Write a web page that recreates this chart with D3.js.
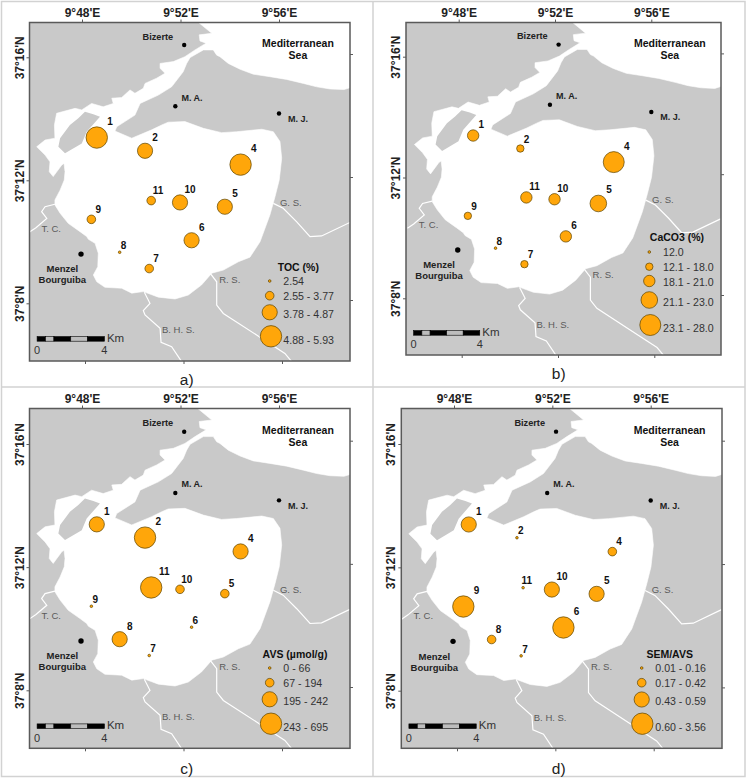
<!doctype html>
<html>
<head>
    <meta charset='utf-8' />
    <script src="https://cdn.jsdelivr.net/npm/d3@7"></script>
    <style>
        body { margin: 0; background: #fff; }
        text { font-family: "Liberation Sans", Arial, sans-serif; }
    </style>
</head>
<body>
<div id="chart"></div>
<script>
// all geographic values are minutes: lon = 9 deg + m, lat = 37 deg + m
var waterLon = [52.66,53.27,52.76,52.79,53.04,52.59,52.18,51.71,51.17,51.17,51.37,51.03,50.56,50.49,50.15,49.95,49.61,49.21,49.27,48.86,48.39,47.99,47.72,46.97,46.88,46.90,46.50,46.16,46.50,46.70,46.67,46.83,47.18,47.27,47.31,47.28,47.11,46.90,46.90,47.11,47.44,47.92,48.19,48.26,48.53,48.66,48.64,48.46,48.60,48.93,49.61,50.02,50.49,51.10,51.78,52.32,52.86,53.27,53.74,54.35,54.82,55.23,55.63,55.84,56.01,56.11,56.04,55.77,55.30,54.28,53.67,52.93,52.18,51.50,51.24,50.83,50.02,49.34,49.41,50.15,50.36,51.10,51.64,52.11,52.25,52.39,52.93,53.33,53.47,53.60,53.94,54.42,54.96,55.63,56.31,56.99,57.53,58.07,58.64,58.88,59.37,59.37,52.66];
var waterLat = [17.18,16.78,16.73,16.53,16.46,16.24,16.02,15.86,15.80,15.64,15.48,15.32,15.15,14.99,14.83,14.94,14.69,14.67,14.50,14.39,14.50,14.29,14.34,14.18,13.80,13.37,13.31,13.09,12.82,12.60,12.28,12.12,12.50,12.55,12.28,12.01,11.68,11.36,11.20,10.93,10.60,10.33,10.17,10.08,9.95,9.63,9.19,8.92,8.70,8.52,8.49,8.33,8.38,8.20,8.14,8.27,8.60,8.98,9.08,9.35,9.50,10.00,10.87,11.47,12.01,12.72,13.26,13.58,13.66,13.58,13.55,13.69,13.91,13.89,13.80,13.64,13.37,13.60,13.74,14.12,14.50,14.77,15.04,15.53,15.80,15.99,16.24,16.24,16.07,16.02,15.80,15.61,15.45,15.37,15.28,15.15,15.04,14.97,14.95,15.01,15.10,17.38,17.38];
var islandLon = [48.12,47.85,47.51,47.11,47.04,47.31,47.99,48.19,48.73,48.46];
var islandLat = [14.23,14.02,13.80,13.37,13.09,12.88,13.20,13.58,14.07,14.15];

var riverTcLon = [45.87,46.13,46.57,46.36,46.50,46.90];
var riverTcLat = [10.32,10.46,10.76,10.98,11.14,11.22];
var riverGsLon = [55.77,56.17,56.72,57.26,57.73,58.88];
var riverGsLat = [11.25,11.09,10.65,10.17,10.19,10.63];
var riverRsLon = [53.20,53.47,53.47,53.74,55.09,56.24,56.52];
var riverRsLat = [8.98,8.70,7.94,7.67,6.97,6.37,6.10];
var riverBhsLon = [50.53,50.76,50.49,50.56,51.17,51.21,51.64,52.05];
var riverBhsLat = [8.36,8.00,7.76,7.62,7.19,6.73,6.59,6.10];

var stationIds = ["1","2","4","5","6","7","8","9","10","11"];
var stationLon = [48.60,50.56,54.44,53.80,52.45,50.73,49.53,48.38,51.98,50.81];
var stationLat = [13.39,12.96,12.51,11.14,10.05,9.13,9.66,10.73,11.28,11.34];

// class of each station (1 = smallest symbol)
var tocClass = [4,3,4,3,3,2,1,2,3,2];
var caco3Class = [3,2,5,4,3,2,1,2,3,3];
var avsClass = [3,4,3,2,1,1,3,1,2,4];
var semClass = [3,1,2,3,4,1,2,4,3,1];

var tocLabels = ["2.54","2.55 - 3.77","3.78 - 4.87","4.88 - 5.93"];
var caco3Labels = ["12.0","12.1 - 18.0","18.1 - 21.0","21.1 - 23.0","23.1 - 28.0"];
var avsLabels = ["0 - 66","67 - 194","195 - 242","243 - 695"];
var semLabels = ["0.01 - 0.16","0.17 - 0.42","0.43 - 0.59","0.60 - 3.56"];

var townNames = ["Bizerte","M. A.","M. J.","Menzel"];
var townLon = [52.15,51.79,56.00,47.96];
var townLat = [16.40,14.41,14.17,9.60];
var areaNames = ["G. S.","T. C.","R. S.","B. H. S."];
var areaLon = [56.48,46.75,54.00,51.91];
var areaLat = [11.28,10.43,8.78,7.13];

var lonTicks = [48,52,56];
var latTicks = [16,12,8];
var kmStops = [0,0.5,1,2,3,4];

var LAND = "#c9c9c9", FRAME = "#5a5a5a", DOT = "#ffa60a", DOT_LINE = "#5c4300";

var radius4 = d3.scaleOrdinal([1,2,3,4], [1.3,4.3,7.6,10.7]);
var radius5 = d3.scaleOrdinal([1,2,3,4,5], [1.3,3.7,5.7,8.3,10.5]);

// page layout of the four maps
var panels = [
  {tag:"a)", tagX:186.7, tagY:379.5, left:29.5, right:350, top:22.5, bottom:361,
   x:[82,279], y:[57.3,303.3], cls:tocClass, r:radius4, title:"TOC (%)", labels:tocLabels,
   titleX:298.3, titleY:267, cx:[269.7,269.7,269.7,271], cy:[281,295.7,312.3,336.3], tx:283.3, ty:[281,296,314,340]},
  {tag:"b)", tagX:558.7, tagY:373.5, left:406, right:721, top:22.5, bottom:355,
   x:[458.7,651.3], y:[56.7,298.3], cls:caco3Class, r:radius5, title:"CaCO3 (%)", labels:caco3Labels,
   titleX:677, titleY:237.7, cx:[649.3,649.3,649.3,649.3,650.3], cy:[252,266.7,281,300,325], tx:663, ty:[252,267,282,302,328]},
  {tag:"c)", tagX:186.7, tagY:768.7, left:29.5, right:350, top:408.5, bottom:748.3,
   x:[82,279], y:[444,690.3], cls:avsClass, r:radius4, title:"AVS (\u00b5mol/g)", labels:avsLabels,
   titleX:295, titleY:654, cx:[269.7,269.7,269.7,271], cy:[668,682.7,699.3,723.7], tx:283.3, ty:[668,683,701.3,727]},
  {tag:"d)", tagX:558.7, tagY:768.5, left:401.3, right:722, top:408.5, bottom:748.3,
   x:[454,650.7], y:[444,690.7], cls:semClass, r:radius4, title:"SEM/AVS", labels:semLabels,
   titleX:669.7, titleY:654, cx:[641.7,641.7,641.7,642.3], cy:[668,682.7,699.5,723.7], tx:655.3, ty:[668,683,701,727]}
];

var svg = d3.select("#chart").append("svg").attr("width", 746).attr("height", 778);

// dividers between the maps
svg.append("rect").attr("x", 1.5).attr("y", 1.5).attr("width", 743.5).attr("height", 775)
  .attr("fill", "none").attr("stroke", "#d2d2d2").attr("stroke-width", 1.5);
svg.append("line").attr("x1", 373).attr("x2", 373).attr("y1", 1).attr("y2", 777).attr("stroke", "#d2d2d2").attr("stroke-width", 1.5);
svg.append("line").attr("x1", 1).attr("x2", 745).attr("y1", 387).attr("y2", 387).attr("stroke", "#d2d2d2").attr("stroke-width", 1.5);

function pairs(lons, lats) { return lons.map(function(v, i) { return [v, lats[i]]; }); }

function centerText(sel, str, x, y, size, weight, fill) {
  return sel.append("text").attr("x", x).attr("y", y).attr("text-anchor", "middle").attr("dy", "0.35em")
    .attr("font-size", size).attr("font-weight", weight || "normal").attr("fill", fill || "#111").text(str);
}

panels.forEach(function(p, idx) {
  var g = svg.append("g");
  var x = d3.scaleLinear().domain([48,56]).range(p.x);
  var y = d3.scaleLinear().domain([16,8]).range(p.y);
  var line = d3.line().x(function(d) { return x(d[0]); }).y(function(d) { return y(d[1]); });
  var w = p.right - p.left, h = p.bottom - p.top;

  g.append("clipPath").attr("id", "clip" + idx).append("rect")
    .attr("x", p.left).attr("y", p.top).attr("width", w).attr("height", h);
  var map = g.append("g").attr("clip-path", "url(#clip" + idx + ")");
  map.append("rect").attr("x", p.left).attr("y", p.top).attr("width", w).attr("height", h).attr("fill", LAND);
  map.append("path").attr("d", line(pairs(waterLon, waterLat)) + "Z").attr("fill", "#fff")
    .attr("stroke", "#fff").attr("stroke-width", 0.6).attr("stroke-linejoin", "round");
  map.append("path").attr("d", line(pairs(islandLon, islandLat)) + "Z").attr("fill", LAND);
  [[riverTcLon,riverTcLat],[riverGsLon,riverGsLat],[riverRsLon,riverRsLat],[riverBhsLon,riverBhsLat]].forEach(function(r) {
    map.append("path").attr("d", line(pairs(r[0], r[1]))).attr("fill", "none").attr("stroke", "#fff").attr("stroke-width", 1.2);
  });

  g.append("rect").attr("x", p.left).attr("y", p.top).attr("width", w).attr("height", h)
    .attr("fill", "none").attr("stroke", FRAME).attr("stroke-width", 1.5);

  // graticule ticks; the bottom and right ones sit a little off the top and left ones
  var top = g.append("g").attr("transform", "translate(0," + p.top + ")")
    .call(d3.axisTop(x).tickValues(lonTicks).tickSize(3).tickPadding(3).tickFormat(function(d) { return "9\u00b0" + d + "'E"; }));
  var left = g.append("g").attr("transform", "translate(" + p.left + ",0)")
    .call(d3.axisLeft(y).tickValues(latTicks).tickSize(3).tickFormat(function(d) { return "37\u00b0" + d + "'N"; }));
  var xb = x.copy().range([p.x[0] + 3, p.x[1] + 3]);
  var yr = y.copy().range([p.y[0] - 3.3, p.y[1] - 3.3]);
  var bottom = g.append("g").attr("transform", "translate(0," + p.bottom + ")")
    .call(d3.axisBottom(xb).tickValues(lonTicks).tickSize(3).tickFormat(""));
  var right = g.append("g").attr("transform", "translate(" + p.right + ",0)")
    .call(d3.axisRight(yr).tickValues(latTicks).tickSize(3).tickFormat(""));
  [top, left, bottom, right].forEach(function(a) {
    a.select(".domain").remove();
    a.selectAll("line").attr("stroke", FRAME);
  });
  top.selectAll("text").attr("font-size", 12).attr("font-weight", "bold").attr("fill", "#222")
    .attr("font-family", '"Liberation Sans", Arial, sans-serif');
  left.selectAll("text").attr("font-size", 12).attr("font-weight", "bold").attr("fill", "#222")
    .attr("font-family", '"Liberation Sans", Arial, sans-serif')
    .attr("text-anchor", "middle").attr("x", 0).attr("dy", 0)
    .attr("transform", "translate(-6,0) rotate(-90)");

  // place names
  townNames.forEach(function(name, i) {
    var tx = x(townLon[i]), ty = y(townLat[i]);
    var menzel = name === "Menzel";
    g.append("circle").attr("cx", tx).attr("cy", ty).attr("r", menzel ? 2.7 : 2.2).attr("fill", "#000");
    if (name === "Bizerte") centerText(g, name, tx - 26.3, ty - 8.7, 9.2, "bold", "#222");
    if (name === "M. A.") centerText(g, name, tx + 16.7, ty - 8.7, 9, "bold", "#222");
    if (name === "M. J.") centerText(g, name, tx + 19, ty + 5.3, 9, "bold", "#222");
    if (menzel) {
      centerText(g, "Menzel", tx - 18.7, ty + 15, 9.5, "bold", "#222");
      centerText(g, "Bourguiba", tx - 18.7, ty + 26, 9.5, "bold", "#222");
    }
  });
  areaNames.forEach(function(name, i) {
    centerText(g, name, x(areaLon[i]), y(areaLat[i]), 9.5, "normal", "#5a5a5a");
  });
  centerText(g, "Mediterranean", x(56.77), y(16.44), 10.5, "bold");
  centerText(g, "Sea", x(56.77), y(16.05), 10.5, "bold");

  // scale bar sits at a fixed spot in the frame
  var bx = p.left + 7.6, by = p.bottom - 24.4;
  var km = d3.scaleLinear().domain([0,4]).range([bx, bx + w * 0.21]);
  g.selectAll("rect.km").data(d3.pairs(kmStops)).enter().append("rect").attr("class", "km")
    .attr("x", function(d) { return km(d[0]); }).attr("y", by)
    .attr("width", function(d) { return km(d[1]) - km(d[0]); }).attr("height", 4.6)
    .attr("fill", function(d, i) { return i % 2 ? "#bdbdbd" : "#000"; })
    .attr("stroke", "#000").attr("stroke-width", 0.6);
  centerText(g, "0", km(0), by + 14, 11, "normal", "#333");
  centerText(g, "4", km(4), by + 14, 11, "normal", "#333");
  g.append("text").attr("x", km(4) + 2.5).attr("y", by + 1).attr("dy", "0.35em")
    .attr("font-size", 11.5).attr("fill", "#333").text("Km");

  // stations
  var st = g.selectAll("g.station").data(stationIds).enter().append("g").attr("class", "station");
  st.append("circle")
    .attr("cx", function(d, i) { return x(stationLon[i]); })
    .attr("cy", function(d, i) { return y(stationLat[i]); })
    .attr("r", function(d, i) { return p.r(p.cls[i]); })
    .attr("fill", DOT).attr("stroke", DOT_LINE).attr("stroke-width", 0.7);
  st.append("text")
    .attr("x", function(d, i) { return x(stationLon[i]) + p.r(p.cls[i]) + 2.5; })
    .attr("y", function(d, i) { return y(stationLat[i]) - p.r(p.cls[i]) - 5.5; })
    .attr("text-anchor", "middle").attr("dy", "0.35em")
    .attr("font-size", 10).attr("font-weight", "bold").attr("fill", "#111").text(function(d) { return d; });

  // legend
  centerText(g, p.title, p.titleX, p.titleY, 10.5, "bold");
  p.labels.forEach(function(label, i) {
    g.append("circle").attr("cx", p.cx[i]).attr("cy", p.cy[i]).attr("r", p.r(i + 1))
      .attr("fill", DOT).attr("stroke", DOT_LINE).attr("stroke-width", 0.7);
    g.append("text").attr("x", p.tx).attr("y", p.ty[i]).attr("dy", "0.35em")
      .attr("font-size", 10.6).attr("fill", "#333").text(label);
  });

  centerText(g, p.tag, p.tagX, p.tagY, 15.5, "normal", "#222");
});
</script>
</body>
</html>
